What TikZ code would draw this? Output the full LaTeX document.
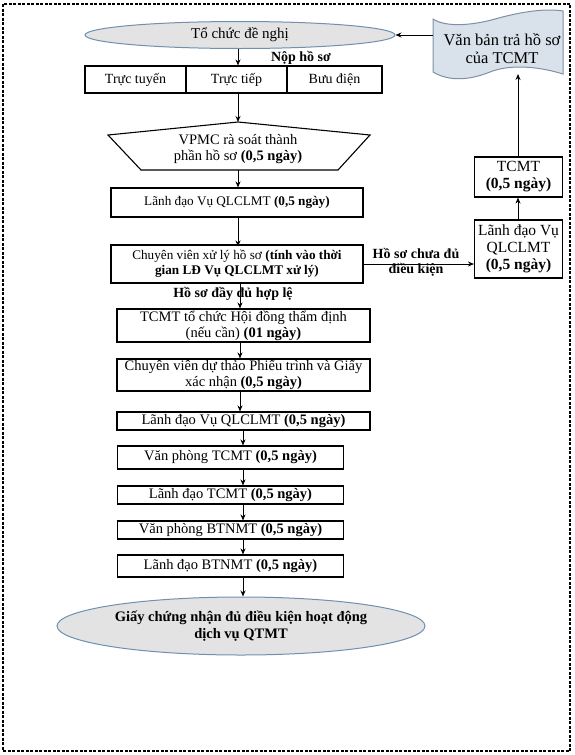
\documentclass[tikz,border=0pt]{standalone}
\usepackage{fontspec}
\setmainfont{Liberation Serif}
\usetikzlibrary{arrows.meta,shapes.geometric}
\definecolor{ellfill}{HTML}{E3E3E3}
\definecolor{ellline}{HTML}{7090B0}
\definecolor{docfill}{HTML}{D9E1EA}
\definecolor{docline}{HTML}{7F8FA6}
\begin{document}
\begin{tikzpicture}[x=1pt,y=-1pt,
  font=\fontsize{14.5}{16}\selectfont,
  box/.style={draw,line width=1.1pt,inner sep=0pt,align=center},
  oval/.style={ellipse,draw=ellline,fill=ellfill,line width=1pt,inner sep=0pt,align=center},
  arr/.style={-{Stealth[length=6pt,width=5pt]},line width=0.9pt},
  lbl/.style={font=\fontsize{14}{15}\selectfont\bfseries,align=center,inner sep=0pt}]
\useasboundingbox (0,0) rectangle (575,755);
\draw[line width=1.1pt,dash pattern=on 3pt off 1.5pt] (3,4) rectangle (570,751);

% top ellipse
\node[oval,minimum width=310,minimum height=27,font=\fontsize{15}{16}\selectfont] (e1) at (240,35) {Tổ chức đề nghị};

% document shape
\draw[draw=docline,fill=docfill,line width=1pt]
  (433,19) .. controls (445,27) and (470,26) .. (495,19)
  .. controls (520,12) and (545,8) .. (563,11)
  -- (563,74) .. controls (530,64) and (505,66) .. (490,72)
  .. controls (470,80) and (450,82) .. (433,72) -- cycle;
\node[align=center,inner sep=0pt,font=\fontsize{16.5}{18}\selectfont] (doc) at (502,49) {Văn bản trả hồ sơ\\của TCMT};
\coordinate (docL) at (433,35);
\coordinate (docB) at (518,74);

% table
\node[box,minimum width=101,minimum height=27,font=\fontsize{14}{15}\selectfont] (c1) at (135.5,79.5) {Trực tuyến};
\node[box,minimum width=101,minimum height=27,font=\fontsize{14}{15}\selectfont] (c2) at (236.5,79.5) {Trực tiếp};
\node[box,minimum width=95,minimum height=27,font=\fontsize{14}{15}\selectfont] (c3) at (334.5,79.5) {Bưu điện};

% pentagon
\draw[line width=1.1pt] (238,122) -- (370,135) -- (338,170) -- (141,170) -- (108,135) -- cycle;
\node[align=center,inner sep=0pt] (vp) at (238,149) {VPMC rà soát thành\\phần hồ sơ \textbf{(0,5 ngày)}};
\coordinate (pt) at (238,122);
\coordinate (pb) at (238,170);

\node[box,minimum width=252,minimum height=29,font=\fontsize{13.2}{15}\selectfont] (b1) at (237,202.5) {Lãnh đạo Vụ QLCLMT \textbf{(0,5 ngày)}};
\node[box,minimum width=252,minimum height=38,font=\fontsize{13.2}{15}\selectfont] (b2) at (237,264) {Chuyên viên xử lý hồ sơ \textbf{(tính vào thời}\\\textbf{gian LĐ Vụ QLCLMT xử lý)}};

\node[box,minimum width=88,minimum height=58,font=\fontsize{15.5}{17}\selectfont] (r1) at (518.5,249) {Lãnh đạo Vụ\\QLCLMT\\\textbf{(0,5 ngày)}};
\node[box,minimum width=88,minimum height=40,font=\fontsize{15.5}{17}\selectfont] (r2) at (518.5,177) {TCMT\\\textbf{(0,5 ngày)}};

\node[box,minimum width=253,minimum height=33] (b3) at (243.5,325.5) {TCMT tổ chức Hội đồng thẩm định\\(nếu cần) \textbf{(01 ngày)}};
\node[box,minimum width=253,minimum height=32] (b4) at (243.5,375) {Chuyên viên dự thảo Phiếu trình và Giấy\\xác nhận \textbf{(0,5 ngày)}};
\node[box,minimum width=253,minimum height=18] (b5) at (243.5,421) {Lãnh đạo Vụ QLCLMT \textbf{(0,5 ngày)}};
\node[box,minimum width=226,minimum height=23] (b6) at (230.5,457.5) {Văn phòng TCMT \textbf{(0,5 ngày)}};
\node[box,minimum width=226,minimum height=18] (b7) at (230.5,495) {Lãnh đạo TCMT \textbf{(0,5 ngày)}};
\node[box,minimum width=226,minimum height=18] (b8) at (230.5,530) {Văn phòng BTNMT \textbf{(0,5 ngày)}};
\node[box,minimum width=226,minimum height=22] (b9) at (230.5,566) {Lãnh đạo BTNMT \textbf{(0,5 ngày)}};

\node[oval,minimum width=368,minimum height=58,font=\fontsize{14.5}{17}\selectfont\bfseries] (e2) at (241,626) {Giấy chứng nhận đủ điều kiện hoạt động\\dịch vụ QTMT};

% connectors
\coordinate (xa) at (238,0);
\coordinate (xb) at (240,0);
\coordinate (xc) at (243,0);
\coordinate (xr) at (518,0);
\draw[arr] (e1.south -| xa) -- (c2.north -| xa);
\node[lbl] (nop) at (301,58) {Nộp hồ sơ};
\draw[arr] (c2.south -| xa) -- (pt);
\draw[arr] (pb) -- (b1.north -| xa);
\draw[arr] (b1.south -| xa) -- ([yshift=-2pt]b2.north -| xa);
\draw[arr] (b2.east) -- (r1.west |- b2.east);
\node[lbl] (chua) at (416,262) {Hồ sơ chưa đủ\\điều kiện};
\draw[arr] (r1.north -| xr) -- (r2.south -| xr);
\draw[arr] (r2.north -| xr) -- (docB);
\draw[arr] (docL) -- (e1.east |- docL);
\draw[arr] (b2.south -| xb) -- (b3.north -| xb);
\node[lbl] (du) at (233,294) {Hồ sơ đầy đủ hợp lệ};
\draw[arr] (b3.south -| xb) -- (b4.north -| xb);
\draw[arr] (b4.south -| xb) -- (b5.north -| xb);
\draw[arr] (b5.south -| xc) -- (b6.north -| xc);
\draw[arr] (b6.south -| xc) -- (b7.north -| xc);
\draw[arr] (b7.south -| xc) -- (b8.north -| xc);
\draw[arr] (b8.south -| xc) -- (b9.north -| xc);
\draw[arr] (b9.south -| xc) -- (e2.north -| xc);
\end{tikzpicture}
\end{document}
